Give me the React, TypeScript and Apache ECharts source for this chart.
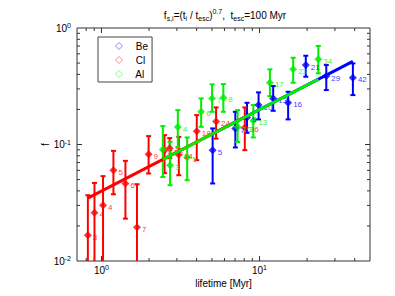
import React, { useEffect, useRef } from 'react';
import * as echarts from 'echarts';

const FONT = '"Liberation Sans", Arial, Helvetica, sans-serif';

// Be (blue)
const beT = [5.05, 7.03, 8.33, 9.86, 12.2, 15.17, 19.62, 26.45, 38.97];
const beF = [0.0894, 0.1374, 0.1708, 0.218, 0.2487, 0.228, 0.4808, 0.3868, 0.374];
const beLo = [0.0463, 0.0943, 0.1259, 0.1642, 0.1946, 0.1642, 0.3815, 0.2932, 0.2655];
const beHi = [0.1374, 0.1909, 0.228, 0.2802, 0.3174, 0.2836, 0.578, 0.4808, 0.497];
const beId = ['5', '7', '9', '10', '13', '16', '21', '29', '42'];
const beFit = [[5.05, 0.1237], [38.97, 0.517]];

// Cl (red)
const clT = [0.82, 0.903, 1.023, 1.19, 1.417, 1.677, 1.987, 2.506, 2.7, 3.085, 4.007, 5.311, 8.07];
const clF = [0.0166, 0.0259, 0.0301, 0.0602, 0.0463, 0.0195, 0.0826, 0.0894, 0.093, 0.0818, 0.1302, 0.1572, 0.1401];
const clLo = [0.005, 0.005, 0.005, 0.0374, 0.0231, 0.005, 0.0564, 0.0567, 0.0763, 0.0545, 0.0734, 0.1123, 0.0894];
const clHi = [0.0367, 0.0468, 0.0535, 0.0882, 0.0724, 0.0456, 0.118, 0.1203, 0.1135, 0.1163, 0.1788, 0.2082, 0.2082];
const clId = ['3', '4', '4', '5', '6', '7', '9', '11', '12', '14', '18', '24', '36'];
const clFit = [[0.82, 0.0346], [8.07, 0.1717]];

// Al (green)
const alT = [2.445, 2.716, 3.041, 3.485, 4.272, 5.01, 5.903, 7.265, 9.13, 11.63, 16.32, 23.55];
const alF = [0.0907, 0.0665, 0.141, 0.0778, 0.1909, 0.2487, 0.2517, 0.141, 0.1597, 0.3388, 0.4416, 0.5383];
const alLo = [0.0527, 0.0447, 0.0949, 0.0494, 0.1418, 0.1909, 0.1909, 0.105, 0.115, 0.2603, 0.3388, 0.4081];
const alHi = [0.1438, 0.1054, 0.1973, 0.115, 0.2487, 0.3282, 0.3301, 0.1973, 0.218, 0.4416, 0.5556, 0.7004];
const alId = ['1', '3', '4', '5', '6', '7', '8', '10', '13', '17', '23', '34'];
const alFit = [[2.445, 0.0744], [23.55, 0.3634]];

// axis ticks
const xMajorTicks = [1, 10];
const xMinorTicks = [0.8, 0.9, 2, 3, 4, 5, 6, 7, 8, 9, 20, 30, 40];
const yMajorTicks = [0.1];
const yMinorTicks = [0.02, 0.03, 0.04, 0.05, 0.06, 0.07, 0.08, 0.09, 0.2, 0.3, 0.4, 0.5, 0.6, 0.7, 0.8, 0.9];

const BLUE = '#0000ff';
const RED = '#ff0000';
const GREEN = '#00ee00';

function errSeries(name: string, color: string, t: number[], lo: number[], hi: number[]) {
  return {
    type: 'custom',
    name: name + ' err',
    coordinateSystem: 'cartesian2d',
    clip: true,
    silent: true,
    data: t.map((v, i) => [v, lo[i], hi[i]]),
    encode: { x: 0, y: [1, 2] },
    renderItem: (params: any, api: any) => {
      const x = api.value(0);
      const p1 = api.coord([x, api.value(1)]);
      const p2 = api.coord([x, api.value(2)]);
      const cap = 2.5;
      const style = { stroke: color, lineWidth: 2 };
      return {
        type: 'group',
        children: [
          { type: 'line', shape: { x1: p1[0], y1: p1[1], x2: p2[0], y2: p2[1] }, style },
          { type: 'line', shape: { x1: p1[0] - cap, y1: p1[1], x2: p1[0] + cap, y2: p1[1] }, style },
          { type: 'line', shape: { x1: p2[0] - cap, y1: p2[1], x2: p2[0] + cap, y2: p2[1] }, style },
        ],
      };
    },
  };
}

function pointSeries(name: string, color: string, t: number[], f: number[], ids: string[]) {
  return {
    type: 'scatter',
    name,
    symbol: 'diamond',
    symbolSize: 8,
    itemStyle: { color },
    silent: true,
    data: t.map((v, i) => [v, f[i]]),
    label: {
      show: true,
      position: 'right',
      distance: 1,
      offset: [0, 2],
      formatter: (p: any) => ids[p.dataIndex],
      color,
      fontSize: 8,
      fontFamily: FONT,
    },
  };
}

function fitSeries(name: string, color: string, fit: number[][]) {
  return {
    type: 'line',
    name: name + ' fit',
    data: fit,
    symbol: 'none',
    silent: true,
    lineStyle: { color, width: 3 },
  };
}

const tickData = [
  ...xMajorTicks.map((v) => [v, 0.01, 1, 0]),
  ...xMinorTicks.map((v) => [v, 0.01, 0, 0]),
  ...yMajorTicks.map((v) => [0.7, v, 1, 1]),
  ...yMinorTicks.map((v) => [0.7, v, 0, 1]),
];

const supRich = {
  b: { fontSize: 10, fontFamily: FONT, color: '#000', lineHeight: 12 },
  p: { fontSize: 7, fontFamily: FONT, color: '#000', lineHeight: 6, verticalAlign: 'top' },
};

function powLabel(v: number) {
  const e = Math.log10(v);
  if (Math.abs(e - Math.round(e)) > 1e-6) return '';
  return `{b|10}{p|${Math.round(e)}}`;
}

export default function App() {
  const ref = useRef<HTMLDivElement>(null);
  useEffect(() => {
    const chart = echarts.init(ref.current!, null, { renderer: 'svg' });
    const option: any = {
      animation: false,
      backgroundColor: '#fff',
      grid: {
        left: 77,
        top: 28,
        width: 293,
        height: 233,
        show: true,
        borderColor: '#333',
        borderWidth: 1,
        backgroundColor: '#fff',
      },
      xAxis: {
        type: 'log',
        logBase: 10,
        min: 0.7,
        max: 50,
        axisLine: { show: false },
        axisTick: { show: false },
        splitLine: { show: false },
        axisLabel: { formatter: powLabel, margin: 3, rich: supRich },
        name: 'lifetime [Myr]',
        nameLocation: 'middle',
        nameGap: 17,
        nameMoveOverlap: false,
        nameTextStyle: { fontSize: 10, fontFamily: FONT, color: '#000' },
      },
      yAxis: {
        type: 'log',
        logBase: 10,
        min: 0.01,
        max: 1,
        axisLine: { show: false },
        axisTick: { show: false },
        splitLine: { show: false },
        axisLabel: { formatter: powLabel, margin: 6, rich: supRich },
        name: 'f',
        nameLocation: 'middle',
        nameGap: 27,
        nameMoveOverlap: false,
        nameTextStyle: { fontSize: 10, fontFamily: FONT, color: '#000' },
      },
      legend: {
        left: 98,
        top: 37,
        orient: 'vertical',
        padding: [3, 4, 2, 15],
        itemGap: 2,
        itemWidth: 7,
        itemHeight: 7,
        backgroundColor: '#fff',
        borderColor: '#444',
        borderWidth: 1,
        borderRadius: 0,
        selectedMode: false,
        formatter: (name: string) => '   ' + name,
        textStyle: { fontSize: 10, fontFamily: FONT, color: '#000' },
        data: [
          { name: 'Be', icon: 'diamond', itemStyle: { color: 'none', borderColor: '#6a6aff', borderWidth: 1 } },
          { name: 'Cl', icon: 'diamond', itemStyle: { color: 'none', borderColor: '#ff6a6a', borderWidth: 1 } },
          { name: 'Al', icon: 'diamond', itemStyle: { color: 'none', borderColor: '#6aff6a', borderWidth: 1 } },
        ],
      },
      graphic: [
        {
          type: 'text',
          x: 225,
          y: 15,
          style: {
            text: '{n|f}{s|s,i}{n|=(t}{s|i}{n| / t}{s|esc}{n|)}{p|0.7}{n|,  t}{s|esc}{n|=100 Myr}',
            align: 'center',
            verticalAlign: 'middle',
            rich: {
              n: { fontSize: 10, fontFamily: FONT, color: '#000', lineHeight: 14 },
              s: { fontSize: 7, fontFamily: FONT, color: '#000', lineHeight: 6, verticalAlign: 'bottom' },
              p: { fontSize: 7, fontFamily: FONT, color: '#000', lineHeight: 6, verticalAlign: 'top' },
            },
          },
        },
      ],
      series: [
        {
          type: 'custom',
          name: 'ticks',
          coordinateSystem: 'cartesian2d',
          silent: true,
          data: tickData,
          encode: { x: 0, y: 1 },
          z: 1,
          renderItem: (params: any, api: any) => {
            const cs = params.coordSys;
            const len = api.value(2) ? 5 : 3;
            const isY = api.value(3);
            const p = api.coord([api.value(0), api.value(1)]);
            const style = { stroke: '#333', lineWidth: 1 };
            if (!isY) {
              const bottom = cs.y + cs.height;
              return {
                type: 'group',
                children: [
                  { type: 'line', shape: { x1: p[0], y1: bottom, x2: p[0], y2: bottom - len }, style },
                  { type: 'line', shape: { x1: p[0], y1: cs.y, x2: p[0], y2: cs.y + len }, style },
                ],
              };
            }
            const right = cs.x + cs.width;
            return {
              type: 'group',
              children: [
                { type: 'line', shape: { x1: cs.x, y1: p[1], x2: cs.x + len, y2: p[1] }, style },
                { type: 'line', shape: { x1: right, y1: p[1], x2: right - len, y2: p[1] }, style },
              ],
            };
          },
        },
        errSeries('Be', BLUE, beT, beLo, beHi),
        pointSeries('Be', BLUE, beT, beF, beId),
        fitSeries('Be', BLUE, beFit),
        errSeries('Cl', RED, clT, clLo, clHi),
        pointSeries('Cl', RED, clT, clF, clId),
        fitSeries('Cl', RED, clFit),
        errSeries('Al', GREEN, alT, alLo, alHi),
        pointSeries('Al', GREEN, alT, alF, alId),
        fitSeries('Al', GREEN, alFit),
      ],
    };
    chart.setOption(option);
    return () => chart.dispose();
  }, []);
  return (
    <div
      ref={ref}
      style={{ position: 'fixed', left: 0, top: 0, width: 395, height: 296, background: '#fff' }}
    />
  );
}
